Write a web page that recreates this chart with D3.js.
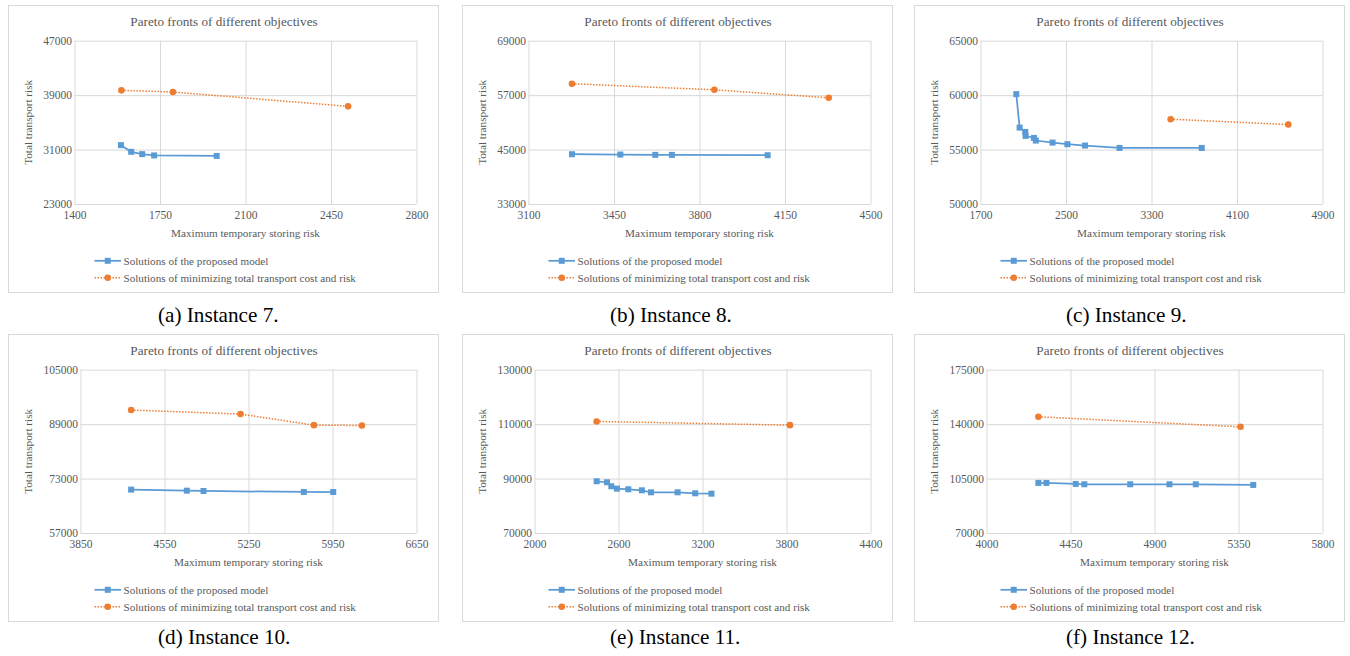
<!DOCTYPE html>
<html>
<head>
<meta charset="utf-8">
<script src="https://cdn.jsdelivr.net/npm/d3@7"></script>
<style>
  html, body { margin: 0; padding: 0; background: #fff; }
  svg { display: block; }
  svg text { font-family: "Liberation Serif", "Times New Roman", serif; }
</style>
</head>
<body>
<svg id="chart" width="1350" height="656"></svg>
<script>
// ---------------- DATA ----------------
const chartTitle = "Pareto fronts of different objectives";
const xAxisTitle = "Maximum temporary storing risk";
const yAxisTitle = "Total transport risk";
const seriesNames = ["Solutions of the proposed model", "Solutions of minimizing total transport cost and risk"];
const captions = ["(a) Instance 7.", "(b) Instance 8.", "(c) Instance 9.", "(d) Instance 10.", "(e) Instance 11.", "(f) Instance 12."];

const xTicks7 = [1400, 1750, 2100, 2450, 2800];
const yTicks7 = [23000, 31000, 39000, 47000];
const proposed7 = [[1590, 31650], [1632, 30670], [1677, 30330], [1726, 30140], [1982, 30060]];
const minimizing7 = [[1592, 39700], [1803, 39460], [2520, 37350]];

const xTicks8 = [3100, 3450, 3800, 4150, 4500];
const yTicks8 = [33000, 45000, 57000, 69000];
const proposed8 = [[3278, 43970], [3476, 43900], [3619, 43830], [3687, 43820], [4079, 43750]];
const minimizing8 = [[3278, 59500], [3861, 58180], [4329, 56410]];

const xTicks9 = [1700, 2500, 3300, 4100, 4900];
const yTicks9 = [50000, 55000, 60000, 65000];
const proposed9 = [[2035, 60090], [2066, 57020], [2119, 56620], [2122, 56255], [2200, 56070], [2218, 55830], [2374, 55640], [2513, 55490], [2678, 55370], [3001, 55150], [3770, 55150]];
const minimizing9 = [[3479, 57790], [4580, 57300]];

const xTicks10 = [3850, 4550, 5250, 5950, 6650];
const yTicks10 = [57000, 73000, 89000, 105000];
const proposed10 = [[4272, 69750], [4736, 69450], [4875, 69350], [5711, 69060], [5956, 69050]];
const minimizing10 = [[4272, 93140], [5183, 91960], [5795, 88700], [6195, 88600]];

const xTicks11 = [2000, 2600, 3200, 3800, 4400];
const yTicks11 = [70000, 90000, 110000, 130000];
const proposed11 = [[2444, 89010], [2518, 88650], [2549, 87170], [2589, 86300], [2670, 86060], [2767, 85690], [2832, 84950], [3022, 84950], [3148, 84580], [3264, 84460]];
const minimizing11 = [[2444, 110990], [3825, 109630]];

const xTicks12 = [4000, 4450, 4900, 5350, 5800];
const yTicks12 = [70000, 105000, 140000, 175000];
const proposed12 = [[4278, 102200], [4321, 102200], [4478, 101550], [4524, 101330], [4770, 101330], [4980, 101330], [5121, 101330], [5429, 100900]];
const minimizing12 = [[4278, 144740], [5361, 138280]];

const panels = [
  { xTicks: xTicks7,  yTicks: yTicks7,  proposed: proposed7,  minimizing: minimizing7 },
  { xTicks: xTicks8,  yTicks: yTicks8,  proposed: proposed8,  minimizing: minimizing8 },
  { xTicks: xTicks9,  yTicks: yTicks9,  proposed: proposed9,  minimizing: minimizing9 },
  { xTicks: xTicks10, yTicks: yTicks10, proposed: proposed10, minimizing: minimizing10 },
  { xTicks: xTicks11, yTicks: yTicks11, proposed: proposed11, minimizing: minimizing11 },
  { xTicks: xTicks12, yTicks: yTicks12, proposed: proposed12, minimizing: minimizing12 }
];

// ---------------- LAYOUT / STYLE ----------------
const colX = [8, 462, 914];
const rowY = [5, 334];
const panelW = 430, panelH = 287;
const captionX = [158, 610, 1066];
const captionY = [315, 637];
const blue = "#5B9BD5", orange = "#ED7D31";
const grid = "#D9D9D9", textGray = "#595959";

const svg = d3.select("#chart");

panels.forEach((p, i) => {
  const col = i % 3, row = Math.floor(i / 3);
  const px = colX[col], py = rowY[row];
  const g = svg.append("g").attr("transform", `translate(${px},${py})`);

  // panel border
  g.append("rect").attr("x", 0.5).attr("y", 0.5)
    .attr("width", panelW).attr("height", panelH)
    .attr("fill", "#fff").attr("stroke", grid).attr("stroke-width", 1);

  const maxLabel = d3.max(p.yTicks, d => String(d).length);
  const left = 66.5 + (maxLabel - 5) * 6;
  const right = 408.5;
  const top = 35.7, bottom = 199;

  const x = d3.scaleLinear().domain(d3.extent(p.xTicks)).range([left, right]);
  const y = d3.scaleLinear().domain(d3.extent(p.yTicks)).range([bottom, top]);

  // title (centred on the panel)
  g.append("text").attr("x", panelW / 2 + 1).attr("y", 16.7)
    .attr("dy", "0.35em").attr("text-anchor", "middle")
    .attr("font-size", 13.2).attr("fill", textGray)
    .text(chartTitle);

  // gridlines via axes
  const xAxis = d3.axisBottom(x).tickValues(p.xTicks).tickSize(-(bottom - top)).tickFormat(d => d).tickPadding(7);
  const yAxis = d3.axisLeft(y).tickValues(p.yTicks).tickSize(-(right - left)).tickFormat(d => d).tickPadding(2.5);

  const gx = g.append("g").attr("transform", `translate(0,${bottom})`).call(xAxis);
  const gy = g.append("g").attr("transform", `translate(${left},0)`).call(yAxis);
  [gx, gy].forEach(a => {
    a.attr("font-family", null);
    a.select(".domain").remove();
    a.selectAll(".tick line").attr("stroke", grid).attr("stroke-width", 1);
    a.selectAll(".tick text").attr("font-size", 11.5).attr("fill", textGray);
  });

  // axis titles
  g.append("text").attr("x", (left + right) / 2).attr("y", 227.7)
    .attr("dy", "0.35em").attr("text-anchor", "middle")
    .attr("font-size", 11.2).attr("fill", textGray)
    .text(xAxisTitle);
  g.append("text").attr("transform", `translate(20,${(top + bottom) / 2}) rotate(-90)`)
    .attr("dy", "0.35em").attr("text-anchor", "middle")
    .attr("font-size", 11.2).attr("fill", textGray)
    .text(yAxisTitle);

  const line = d3.line().x(d => x(d[0])).y(d => y(d[1]));

  // minimizing series (orange, dotted, circles)
  g.append("path").datum(p.minimizing).attr("d", line)
    .attr("fill", "none").attr("stroke", orange).attr("stroke-width", 1.5)
    .attr("stroke-dasharray", "1.5,1.5");
  g.selectAll("circle.m").data(p.minimizing).enter().append("circle")
    .attr("class", "m").attr("cx", d => x(d[0])).attr("cy", d => y(d[1]))
    .attr("r", 3.3).attr("fill", orange);

  // proposed series (blue, solid, squares)
  g.append("path").datum(p.proposed).attr("d", line)
    .attr("fill", "none").attr("stroke", blue).attr("stroke-width", 1.75);
  g.selectAll("rect.pr").data(p.proposed).enter().append("rect")
    .attr("class", "pr").attr("x", d => x(d[0]) - 3).attr("y", d => y(d[1]) - 3)
    .attr("width", 6).attr("height", 6).attr("fill", blue);

  // legend
  const legY = [255.8, 272.8];
  const lg = g.append("g");
  lg.append("line").attr("x1", 86.5).attr("x2", 113).attr("y1", legY[0]).attr("y2", legY[0])
    .attr("stroke", blue).attr("stroke-width", 1.75);
  lg.append("rect").attr("x", 99.75 - 3).attr("y", legY[0] - 3).attr("width", 6).attr("height", 6).attr("fill", blue);
  lg.append("line").attr("x1", 86.5).attr("x2", 113).attr("y1", legY[1]).attr("y2", legY[1])
    .attr("stroke", orange).attr("stroke-width", 1.5).attr("stroke-dasharray", "1.5,1.5");
  lg.append("circle").attr("cx", 99.75).attr("cy", legY[1]).attr("r", 3.3).attr("fill", orange);
  seriesNames.forEach((n, k) => {
    lg.append("text").attr("x", 115.5).attr("y", legY[k]).attr("dy", "0.35em")
      .attr("font-size", 11.15).attr("fill", textGray).text(n);
  });

  // caption
  svg.append("text").attr("x", captionX[col]).attr("y", captionY[row]).attr("dy", "0.35em")
    .attr("text-anchor", "start").attr("font-size", 21.2)
    .attr("fill", "#000").text(captions[i]);
});
</script>
</body>
</html>
